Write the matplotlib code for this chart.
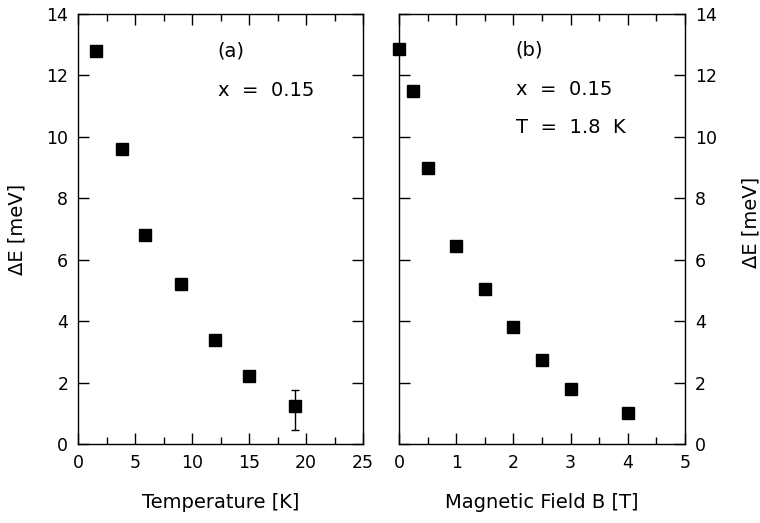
import matplotlib
matplotlib.use("Agg")
import matplotlib.pyplot as plt
from matplotlib.ticker import MultipleLocator

temp_K = [1.6, 3.9, 5.9, 9.0, 12.0, 15.0, 19.0]
dE_temp = [12.8, 9.6, 6.8, 5.2, 3.4, 2.2, 1.25]
dE_temp_err_low = [0, 0, 0, 0, 0, 0, 0.78]
dE_temp_err_high = [0, 0, 0, 0, 0, 0, 0.52]

field_T = [0.0, 0.25, 0.5, 1.0, 1.5, 2.0, 2.5, 3.0, 4.0]
dE_field = [12.85, 11.5, 9.0, 6.45, 5.05, 3.8, 2.75, 1.8, 1.0]

plt.rcParams['font.family'] = ['DejaVu Sans']
fig = plt.figure(figsize=(7.6, 5.23), dpi=100)
W, H = 760, 523
axa = fig.add_axes([78 / W, 1 - 444 / H, (363 - 78) / W, (444 - 14) / H])
axb = fig.add_axes([399 / W, 1 - 444 / H, (685 - 399) / W, (444 - 14) / H])

for ax in (axa, axb):
    ax.set_ylim(0, 14)
    ax.yaxis.set_major_locator(MultipleLocator(2))
    ax.tick_params(which='both', direction='in', top=True, right=True, left=True,
                   labelsize=12.5, width=1.0)
    ax.tick_params(which='major', length=8, pad=7)
    ax.tick_params(which='minor', length=5)
    for s in ax.spines.values():
        s.set_linewidth(1.0)

axa.set_xlim(0, 25)
axa.xaxis.set_major_locator(MultipleLocator(5))
axa.xaxis.set_minor_locator(MultipleLocator(2.5))
axa.errorbar(temp_K, dE_temp, yerr=[dE_temp_err_low, dE_temp_err_high], fmt='s',
             color='black', ms=8.5, capsize=3, elinewidth=1, clip_on=False)
axa.set_xlabel('Temperature [K]', fontsize=14, labelpad=15)
axa.set_ylabel('ΔE [meV]', fontsize=14, labelpad=14)
axa.text(12.2, 12.8, '(a)', fontsize=14, va='center')
axa.text(12.3, 11.5, 'x  =  0.15', fontsize=14, va='center')

axb.set_xlim(0, 5)
axb.xaxis.set_major_locator(MultipleLocator(1))
axb.xaxis.set_minor_locator(MultipleLocator(0.5))
axb.plot(field_T, dE_field, 's', color='black', ms=8.5, clip_on=False)
axb.yaxis.tick_right()
axb.tick_params(which='both', left=True, right=True, labelleft=False, labelright=True)
axb.set_xlabel('Magnetic Field B [T]', fontsize=14, labelpad=15)
fig.text(751 / W, 1 - 222 / H, 'ΔE [meV]', fontsize=14, rotation=90,
         ha='center', va='center')
axb.text(2.04, 12.83, '(b)', fontsize=14, va='center')
axb.text(2.04, 11.53, 'x  =  0.15', fontsize=14, va='center')
axb.text(2.04, 10.3, 'T  =  1.8  K', fontsize=14, va='center')

fig.savefig('out.png', dpi=100)
